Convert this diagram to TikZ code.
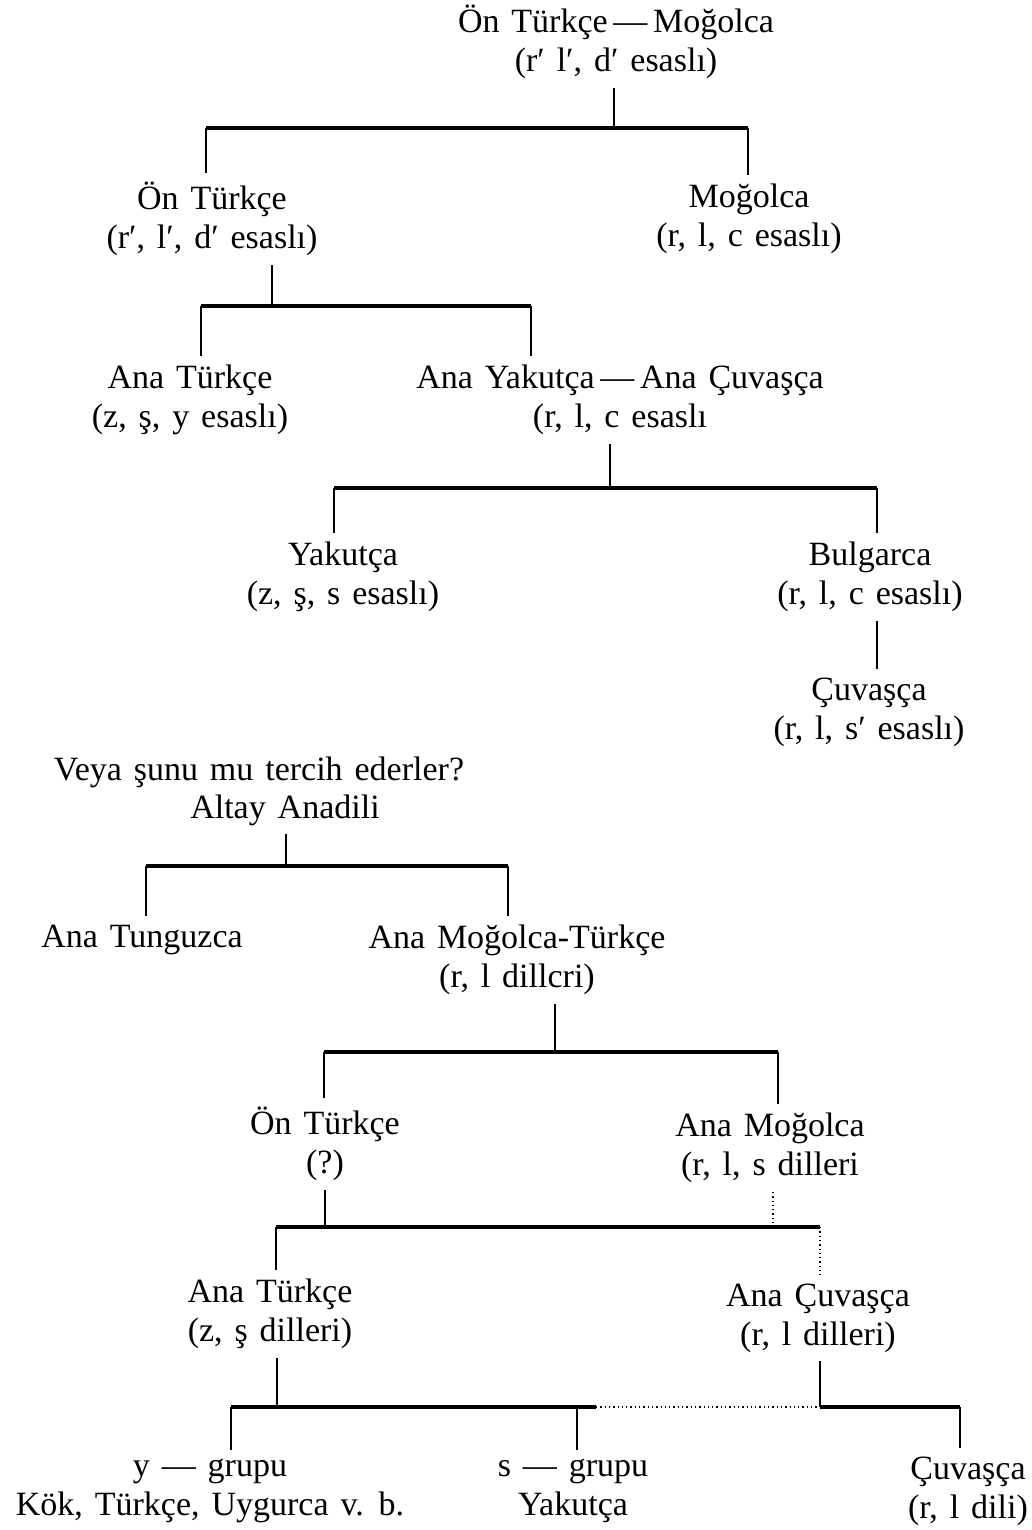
\documentclass[tikz,border=0pt]{standalone}
\usepackage{fontspec}
\setmainfont{Liberation Serif}[WordSpace=1.4]

\tikzset{
  lang/.style={align=center, inner sep=0pt, outer sep=9pt,
    font=\fontsize{34}{39}\selectfont},
  stem/.style={black, line width=2.4pt},
  bar/.style={black, line width=3.4pt},
  faint/.style={black, line width=1.3pt, dash pattern=on 1.3pt off 3pt},
}

\begin{document}
\begin{tikzpicture}[x=1pt, y=-1pt]
  \useasboundingbox (0,0) rectangle (1031,1530);

  % first tree
  \node[lang] (proto) at (616,42) {Ön Türkçe\,—\,Moğolca\\(r′ l′, d′ esaslı)};
  \node[lang] (onturk) at (212,219) {Ön Türkçe\\(r′, l′, d′ esaslı)};
  \node[lang] (mogol) at (749,219) {Moğolca\\(r, l, c esaslı)};
  \node[lang] (anaturk) at (190,400) {Ana Türkçe\\(z, ş, y esaslı)};
  \node[lang] (yakcuv) at (620,400) {Ana Yakutça\,—\,Ana Çuvaşça\\(r, l, c esaslı};
  \node[lang] (yakut) at (343,577) {Yakutça\\(z, ş, s esaslı)};
  \node[lang] (bulgar) at (870,577) {Bulgarca\\(r, l, c esaslı)};
  \node[lang] (cuvas) at (869,712) {Çuvaşça\\(r, l, s′ esaslı)};

  \coordinate (a1) at (614,128);
  \coordinate (a1l) at (206,128);
  \coordinate (a1r) at (748,128);
  \coordinate (a2) at (272,306);
  \coordinate (a2l) at (201,306);
  \coordinate (a2r) at (531,306);
  \coordinate (a3) at (610,488);
  \coordinate (a3l) at (334,488);
  \coordinate (a3r) at (877,488);

  \draw[stem] (proto.south -| a1) -- (a1);
  \draw[bar] (a1l) -- (a1r);
  \draw[stem] (a1l) -- (a1l |- onturk.north);
  \draw[stem] (a1r) -- (a1r |- mogol.north);

  \draw[stem] (onturk.south -| a2) -- (a2);
  \draw[bar] (a2l) -- (a2r);
  \draw[stem] (a2l) -- (a2l |- anaturk.north);
  \draw[stem] (a2r) -- (a2r |- yakcuv.north);

  \draw[stem] (yakcuv.south -| a3) -- (a3);
  \draw[bar] (a3l) -- (a3r);
  \draw[stem] (a3l) -- (a3l |- yakut.north);
  \draw[stem] (a3r) -- (a3r |- bulgar.north);
  \draw[stem] (bulgar.south -| a3r) -- (a3r |- cuvas.north);

  % second tree
  \node[lang, outer sep=0pt] (soru) at (259,772) {Veya şunu mu tercih ederler?};
  \node[lang] (altay) at (285,810) {Altay Anadili};
  \node[lang] (tunguz) at (142,940) {Ana Tunguzca};
  \node[lang] (mogturk) at (517,960) {Ana Moğolca-Türkçe\\(r, l dillcri)};
  \node[lang] (onturkb) at (325,1144) {Ön Türkçe\\(?)};
  \node[lang] (anamog) at (770,1148) {Ana Moğolca\\(r, l, s dilleri};
  \node[lang] (anaturkb) at (270,1314) {Ana Türkçe\\(z, ş dilleri)};
  \node[lang] (anacuv) at (818,1318) {Ana Çuvaşça\\(r, l dilleri)};
  \node[lang] (ygrup) at (210,1491) {y — grupu\\Kök, Türkçe, Uygurca v. b.};
  \node[lang] (sgrup) at (573,1491) {s — grupu\\Yakutça};
  \node[lang] (cuvasb) at (968,1491) {Çuvaşça\\(r, l dili)};

  \coordinate (a4) at (286,866);
  \coordinate (a4l) at (146,866);
  \coordinate (a4r) at (508,866);
  \coordinate (a5) at (555,1052);
  \coordinate (a5l) at (324,1052);
  \coordinate (a5r) at (778,1052);
  \coordinate (a6) at (325,1227);
  \coordinate (a6d) at (773,1227);
  \coordinate (a6l) at (276,1227);
  \coordinate (a6r) at (820,1227);
  \coordinate (a7) at (277,1407);
  \coordinate (a7l) at (231,1407);
  \coordinate (a7s) at (577,1407);
  \coordinate (a7m) at (596,1407);
  \coordinate (a7c) at (820,1407);
  \coordinate (a7r) at (960,1407);

  \draw[stem] (altay.south -| a4) -- (a4);
  \draw[bar] (a4l) -- (a4r);
  \draw[stem] (a4l) -- (a4l |- tunguz.north);
  \draw[stem] (a4r) -- (a4r |- mogturk.north);

  \draw[stem] (mogturk.south -| a5) -- (a5);
  \draw[bar] (a5l) -- (a5r);
  \draw[stem] (a5l) -- (a5l |- onturkb.north);
  \draw[stem] (a5r) -- (a5r |- anamog.north);

  \draw[stem] (onturkb.south -| a6) -- (a6);
  \draw[faint] (anamog.south -| a6d) -- (a6d);
  \draw[bar] (a6l) -- (a6r);
  \draw[stem] (a6l) -- (a6l |- anaturkb.north);
  \draw[faint] (a6r) -- (a6r |- anacuv.north);

  \draw[stem] (anaturkb.south -| a7) -- (a7);
  \draw[stem] (anacuv.south -| a7c) -- (a7c);
  \draw[bar] (a7l) -- (a7m);
  \draw[faint] (a7m) -- (a7c);
  \draw[bar] (a7c) -- (a7r);
  \draw[stem] (a7l) -- (a7l |- ygrup.north);
  \draw[stem] (a7s) -- (a7s |- sgrup.north);
  \draw[stem] (a7r) -- (a7r |- cuvasb.north);
\end{tikzpicture}
\end{document}
